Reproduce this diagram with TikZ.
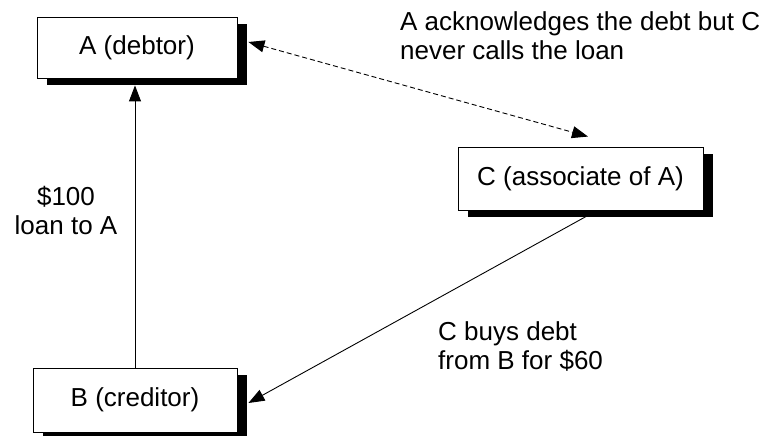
\documentclass[tikz,border=0pt]{standalone}
\usepackage{fontspec}
\setmainfont{Liberation Sans}
\usetikzlibrary{arrows.meta,shadows}
\begin{document}
\begin{tikzpicture}[x=1pt,y=1pt,
  box/.style={draw, line width=0.9pt, fill=white, inner sep=0pt,
    font=\fontsize{26}{30}\selectfont,
    drop shadow={shadow xshift=10pt, shadow yshift=-7pt, fill=black, opacity=1}},
  lbl/.style={inner sep=0pt, font=\fontsize{26}{29}\selectfont},
  conn/.style={line width=0.9pt, -{Triangle[length=16pt,width=12pt]}},
  ]
\useasboundingbox (0,0) rectangle (768,436);
\node[box, minimum width=200pt, minimum height=61pt] (A) at (137,388.5) {A (debtor)};
\node[box, minimum width=245pt, minimum height=63pt] (C) at (580.5,257.5) {C (associate of A)};
\node[box, minimum width=204pt, minimum height=64pt] (B) at (135,36) {B (creditor)};

\coordinate (aBot) at ([yshift=-7pt]A.south -| B.north);
\draw[conn] (B.north) -- (aBot);

\coordinate (aRight) at ([xshift=11pt,yshift=5.5pt]A.east);
\coordinate (cTop) at ([xshift=7.5pt,yshift=10pt]C.north);
\draw[line width=0.9pt, dash pattern=on 5pt off 3pt,
  {Triangle[length=16pt,width=12pt]}-{Triangle[length=16pt,width=12pt]}] (aRight) -- (cTop);

\coordinate (cBot) at ([xshift=16.5pt]C.south);
\coordinate (bRight) at ([xshift=11pt,yshift=-3pt]B.east);
\draw[conn] (cBot) -- (bRight);

\node[lbl, anchor=base west, align=left] (t1) at (400,376) {A acknowledges the debt but C\\never calls the loan};
\node[lbl, anchor=base, align=center] (t2) at (66,201) {\$100\\loan to A};
\node[lbl, anchor=base west, align=left] (t3) at (438,66) {C buys debt\\from B for \$60};
\end{tikzpicture}
\end{document}
